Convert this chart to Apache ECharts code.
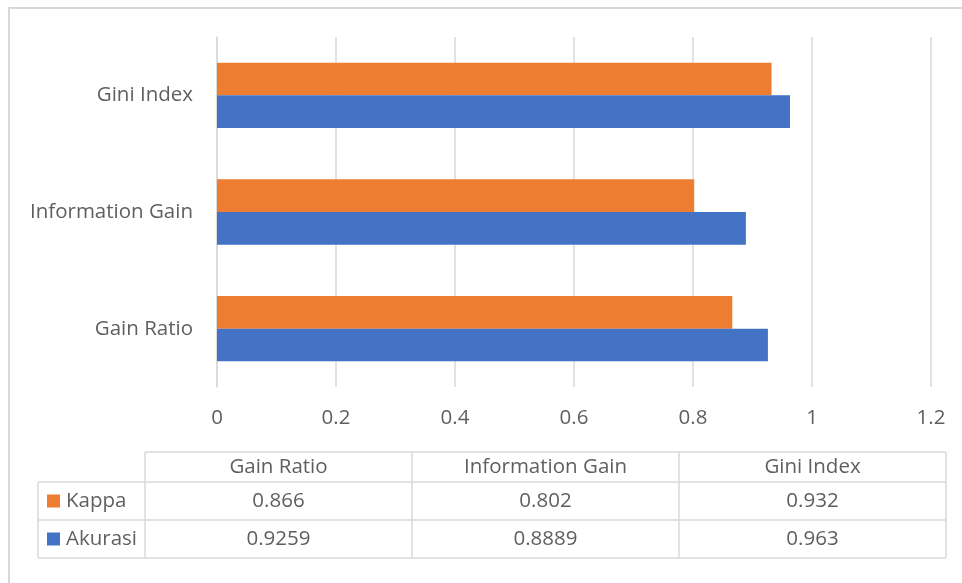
<!DOCTYPE html>
<html>
<head>
<meta charset="utf-8">
<script src="https://cdn.jsdelivr.net/npm/echarts@6/dist/echarts.min.js"></script>
<style>
  html, body { margin: 0; padding: 0; background: #fff; }
  #chart { width: 962px; height: 583px; }
</style>
</head>
<body>
<div id="chart"></div>
<script>
// Split criteria compared, bottom to top on the category axis
const categories = ['Gain Ratio', 'Information Gain', 'Gini Index'];
const kappa = [0.866, 0.802, 0.932];
const akurasi = [0.9259, 0.8889, 0.963];
const xTicks = { min: 0, max: 1.2, interval: 0.2 };

const seriesNames = ['Kappa', 'Akurasi'];
const colors = { Kappa: '#ED7D31', Akurasi: '#4472C4' };
const valuesBySeries = { Kappa: kappa, Akurasi: akurasi };

const FONT = '"Open Sans", "Noto Sans", sans-serif';
const FSIZE = 20.5;
const TEXT = '#5f5f5f';
const LINE = '#d9d9d9';

// Data table under the plot
const table = { left: 38, keyW: 107, colW: 267, top: 452, headH: 30, rowH: 38 };

function buildTable() {
  const els = [];
  const x0 = table.left + table.keyW;
  const x1 = x0 + table.colW * categories.length;
  const yHead = table.top;
  const yBody = yHead + table.headH;
  const yEnd = yBody + table.rowH * seriesNames.length;
  const ln = (ax, ay, bx, by) => ({
    type: 'line', silent: true,
    shape: { x1: ax, y1: ay, x2: bx, y2: by },
    style: { stroke: LINE, lineWidth: 1.5 }
  });
  const txt = (s, x, y, align) => ({
    type: 'text', silent: true,
    style: { text: s, x: x, y: y, fill: TEXT, font: FSIZE + 'px ' + FONT,
             textAlign: align, textVerticalAlign: 'middle' }
  });
  // horizontal rules
  els.push(ln(x0, yHead, x1, yHead));
  for (let r = 0; r <= seriesNames.length; r++) {
    const y = yBody + r * table.rowH;
    els.push(ln(table.left, y, x1, y));
  }
  // vertical rules
  els.push(ln(table.left, yBody, table.left, yEnd));
  for (let c = 0; c <= categories.length; c++) {
    const x = x0 + c * table.colW;
    els.push(ln(x, yHead, x, yEnd));
  }
  // header
  categories.forEach((cat, c) => {
    els.push(txt(cat, x0 + (c + 0.5) * table.colW, yHead + table.headH / 2, 'center'));
  });
  // rows with legend keys
  seriesNames.forEach((name, r) => {
    const cy = yBody + (r + 0.5) * table.rowH;
    els.push({
      type: 'rect', silent: true,
      shape: { x: table.left + 9, y: cy - 6.5, width: 13, height: 13 },
      style: { fill: colors[name] }
    });
    els.push(txt(name, table.left + 28, cy, 'left'));
    valuesBySeries[name].forEach((v, c) => {
      els.push(txt(String(v), x0 + (c + 0.5) * table.colW, cy, 'center'));
    });
  });
  return els;
}

const chart = echarts.init(document.getElementById('chart'), null, { renderer: 'canvas' });

chart.setOption({
  backgroundColor: '#ffffff',
  animation: false,
  grid: { left: 217, right: 31, top: 37, bottom: 196, containLabel: false },
  xAxis: {
    type: 'value',
    min: xTicks.min, max: xTicks.max, interval: xTicks.interval,
    axisLine: { show: false },
    axisTick: { show: false },
    splitLine: { show: true, lineStyle: { color: LINE, width: 1.5 } },
    axisLabel: { color: TEXT, fontFamily: FONT, fontSize: FSIZE, margin: 21 }
  },
  yAxis: {
    type: 'category',
    data: categories,
    axisLine: { show: true, lineStyle: { color: LINE, width: 1.5 } },
    axisTick: { show: false },
    axisLabel: { color: TEXT, fontFamily: FONT, fontSize: FSIZE, margin: 24 }
  },
  series: [
    {
      name: 'Kappa', type: 'bar', data: kappa,
      itemStyle: { color: colors.Kappa },
      barGap: '0%', barCategoryGap: '44%'
    },
    {
      name: 'Akurasi', type: 'bar', data: akurasi,
      itemStyle: { color: colors.Akurasi },
      barGap: '0%', barCategoryGap: '44%'
    }
  ],
  graphic: [
    {
      type: 'rect', silent: true, z: -1,
      shape: { x: 9, y: 8, width: 1000, height: 620 },
      style: { fill: 'none', stroke: LINE, lineWidth: 2 }
    }
  ].concat(buildTable())
});
</script>
</body>
</html>
